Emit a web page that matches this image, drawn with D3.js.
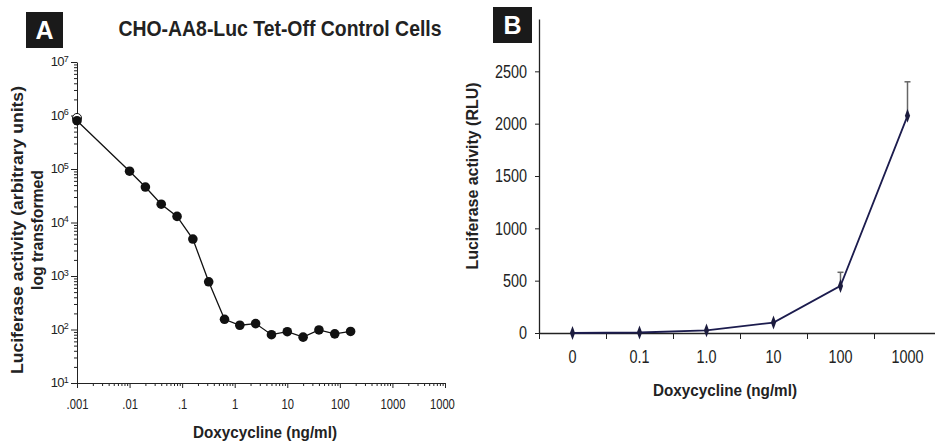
<!DOCTYPE html>
<html>
<head>
<meta charset="utf-8">
<script src="https://cdn.jsdelivr.net/npm/d3@7"></script>
<style>
  body { margin: 0; background: #fff; }
  svg { display: block; }
  text { font-family: "Liberation Sans", Arial, sans-serif; fill: #222; }
  .axis path, .axis line { stroke: #222; }
  .axis text { fill: #222; font-family: "Liberation Sans", Arial, sans-serif; }
  .bold { font-weight: bold; }
</style>
</head>
<body>
<div id="chart-area"></div>
<script>
// panel A data: doxycycline dose vs luciferase (log)
const doseA = [0.001, 0.01, 0.02, 0.04, 0.08, 0.16, 0.32, 0.64, 1.25, 2.5, 5, 10, 20, 40, 80, 160];
const lucA = [800000, 91000, 46000, 22000, 13000, 4900, 780, 155, 120, 129, 80, 91, 72, 98, 83, 92];
const openA = 900000; // hollow marker behind the first point
const yTicksA = [10, 100, 1e3, 1e4, 1e5, 1e6, 1e7];
const xTicksA = [0.001, 0.01, 0.1, 1, 10, 100, 1000, 10000];
const xLabelsA = [".001", ".01", ".1", "1", "10", "100", "1000", "10000"];

// panel B data
const catsB = ["0", "0.1", "1.0", "10", "100", "1000"];
const lucB = [0, 5, 25, 100, 450, 2075];
const errB = [0, 0, 0, 0, 130, 325];
const yTicksB = [0, 500, 1000, 1500, 2000, 2500];

const W = 935, H = 445;
const NARROW = 0.8;

// squeeze plain text horizontally to look like a condensed face
function squeeze(sel, f) {
  sel.each(function() {
    let len = this.getComputedTextLength();
    d3.select(this).attr("textLength", len * f).attr("lengthAdjust", "spacingAndGlyphs");
  });
}

let svg = d3.select("#chart-area").append("svg")
  .attr("width", W).attr("height", H);

// ---------- PANEL A ----------
svg.append("defs").append("clipPath").attr("id", "clipA")
  .append("rect").attr("x", 0).attr("y", 0).attr("width", 455).attr("height", H);

let gA = svg.append("g").attr("clip-path", "url(#clipA)");

let xA = d3.scaleLog().domain([0.001, 10000]).range([77, 445]);
let yA = d3.scaleLog().domain([10, 1e7]).range([383, 62]);

// minor ticks
let minorY = [], minorX = [];
yTicksA.slice(0, -1).forEach(function(d) {
  for (let k = 2; k < 10; k++) minorY.push(d * k);
});
xTicksA.slice(0, -1).forEach(function(d) {
  for (let k = 2; k < 10; k++) minorX.push(d * k);
});

gA.append("g").attr("class", "axis")
  .attr("transform", "translate(77,0)")
  .call(d3.axisLeft(yA).tickValues(minorY).tickSize(3).tickFormat("").tickSizeOuter(0))
  .select(".domain").remove();

let yAxisA = gA.append("g").attr("class", "axis")
  .attr("transform", "translate(77,0)")
  .call(d3.axisLeft(yA).tickValues(yTicksA).tickSize(6).tickSizeOuter(0).tickFormat(""));
yAxisA.selectAll(".tick").append("text")
  .attr("x", -9).attr("dy", "0.3em")
  .attr("text-anchor", "end")
  .style("font-size", "13px")
  .style("letter-spacing", "-0.7px")
  .each(function(d) {
    let t = d3.select(this);
    t.append("tspan").text("10");
    t.append("tspan").attr("dy", "-0.5em").style("font-size", "9px").text(Math.round(Math.log10(d)));
  });

gA.append("g").attr("class", "axis")
  .attr("transform", "translate(0,383)")
  .call(d3.axisBottom(xA).tickValues(minorX).tickSize(3).tickFormat("").tickSizeOuter(0))
  .select(".domain").remove();

gA.append("g").attr("class", "axis")
  .attr("transform", "translate(0,383)")
  .call(d3.axisBottom(xA).tickValues(xTicksA).tickSize(5).tickSizeOuter(0)
    .tickPadding(11).tickFormat(function(d, i) { return xLabelsA[i]; }))
  .selectAll("text").style("font-size", "14px").call(squeeze, NARROW);

// line + markers
let ptsA = doseA.map(function(d, i) { return [d, lucA[i]]; });
let lineA = d3.line().x(function(d) { return xA(d[0]); }).y(function(d) { return yA(d[1]); });

gA.append("path").datum(ptsA)
  .attr("d", lineA)
  .attr("fill", "none").attr("stroke", "#111").attr("stroke-width", 1.3);

gA.append("circle")
  .attr("cx", xA(doseA[0])).attr("cy", yA(openA)).attr("r", 4.5)
  .attr("fill", "#fff").attr("stroke", "#111").attr("stroke-width", 1);

gA.selectAll(".dotA").data(ptsA).enter().append("circle")
  .attr("class", "dotA")
  .attr("cx", function(d) { return xA(d[0]); })
  .attr("cy", function(d) { return yA(d[1]); })
  .attr("r", 4.8)
  .attr("fill", "#111");

// panel A texts
gA.append("rect").attr("x", 26).attr("y", 12).attr("width", 37).attr("height", 36).attr("fill", "#1a1a1a");
gA.append("text").attr("x", 44.5).attr("y", 39).attr("text-anchor", "middle")
  .attr("class", "bold").style("font-size", "25px").style("fill", "#fff").text("A");

gA.append("text").attr("x", 280).attr("y", 36).attr("text-anchor", "middle")
  .attr("class", "bold").style("font-size", "22px")
  .attr("textLength", 323).attr("lengthAdjust", "spacingAndGlyphs")
  .text("CHO-AA8-Luc Tet-Off Control Cells");

let yTitleA = gA.append("g").attr("transform", "translate(23,230) rotate(-90)");
yTitleA.append("text").attr("class", "bold").attr("text-anchor", "middle")
  .style("font-size", "17px").attr("textLength", 288).attr("lengthAdjust", "spacingAndGlyphs")
  .text("Luciferase activity (arbitrary units)");
yTitleA.append("text").attr("class", "bold").attr("text-anchor", "middle").attr("y", 20)
  .style("font-size", "17px").attr("textLength", 120).attr("lengthAdjust", "spacingAndGlyphs")
  .text("log transformed");

gA.append("text").attr("x", 265).attr("y", 438).attr("text-anchor", "middle")
  .attr("class", "bold").style("font-size", "17px")
  .attr("textLength", 144).attr("lengthAdjust", "spacingAndGlyphs")
  .text("Doxycycline (ng/ml)");

// ---------- PANEL B ----------
let gB = svg.append("g");

let xB = d3.scaleBand().domain(catsB).range([539, 941]);
let xEdge = d3.scaleLinear().domain([0, catsB.length]).range([539, 941]);
let yB = d3.scaleLinear().domain([0, 3000]).range([333, 19]);

gB.append("g").attr("class", "axis")
  .attr("transform", "translate(539,0)")
  .call(d3.axisLeft(yB).tickValues(yTicksB).tickSize(4).tickSizeOuter(0).tickPadding(8).tickFormat(d3.format("d")))
  .call(function(g) {
    g.select(".domain").attr("stroke", "#333").attr("stroke-width", 1.3);
    g.selectAll("text").style("font-size", "18px").call(squeeze, NARROW);
  });

// x axis: ticks on band edges, labels at centres
gB.append("g").attr("class", "axis")
  .attr("transform", "translate(0,333)")
  .call(d3.axisBottom(xEdge).tickValues(d3.range(catsB.length)).tickSize(6).tickFormat("").tickSizeOuter(0))
  .call(function(g) { g.select(".domain").attr("stroke", "#333").attr("stroke-width", 1.3); });

gB.append("g").attr("class", "axis")
  .attr("transform", "translate(0,333)")
  .call(d3.axisBottom(xB).tickSize(0).tickPadding(17))
  .call(function(g) {
    g.select(".domain").remove();
    g.selectAll("text").style("font-size", "18px").call(squeeze, NARROW);
  });

// error bars
let cx = function(d) { return xB(d) + xB.bandwidth() / 2; };
gB.selectAll(".err").data(catsB.filter(function(d, i) { return errB[i] > 0; }))
  .enter().append("g").attr("class", "err")
  .each(function(d) {
    let i = catsB.indexOf(d);
    let g = d3.select(this);
    g.append("line")
      .attr("x1", cx(d)).attr("x2", cx(d))
      .attr("y1", yB(lucB[i])).attr("y2", yB(lucB[i] + errB[i]))
      .attr("stroke", "#666").attr("stroke-width", 1.5);
    g.append("line")
      .attr("x1", cx(d) - 3).attr("x2", cx(d) + 3)
      .attr("y1", yB(lucB[i] + errB[i])).attr("y2", yB(lucB[i] + errB[i]))
      .attr("stroke", "#666").attr("stroke-width", 1.5);
  });

let lineB = d3.line().x(function(d, i) { return cx(catsB[i]); }).y(function(d) { return yB(d); });
gB.append("path").datum(lucB)
  .attr("d", lineB)
  .attr("fill", "none").attr("stroke", "#1c1c4e").attr("stroke-width", 1.8);

gB.selectAll(".dotB").data(lucB).enter().append("path")
  .attr("class", "dotB")
  .attr("transform", function(d, i) { return "translate(" + cx(catsB[i]) + "," + yB(d) + ") scale(0.8,1.25)"; })
  .attr("d", d3.symbol().type(d3.symbolDiamond).size(36))
  .attr("fill", "#1c1c3e");

gB.append("rect").attr("x", 493).attr("y", 7).attr("width", 39).attr("height", 36).attr("fill", "#1a1a1a");
gB.append("text").attr("x", 512.5).attr("y", 34).attr("text-anchor", "middle")
  .attr("class", "bold").style("font-size", "25px").style("fill", "#fff").text("B");

gB.append("text").attr("class", "bold")
  .attr("transform", "translate(478,176) rotate(-90)")
  .attr("text-anchor", "middle").style("font-size", "17px")
  .attr("textLength", 187).attr("lengthAdjust", "spacingAndGlyphs")
  .text("Luciferase activity (RLU)");

gB.append("text").attr("x", 725).attr("y", 396).attr("text-anchor", "middle")
  .attr("class", "bold").style("font-size", "17px")
  .attr("textLength", 144).attr("lengthAdjust", "spacingAndGlyphs")
  .text("Doxycycline (ng/ml)");
</script>
</body>
</html>
